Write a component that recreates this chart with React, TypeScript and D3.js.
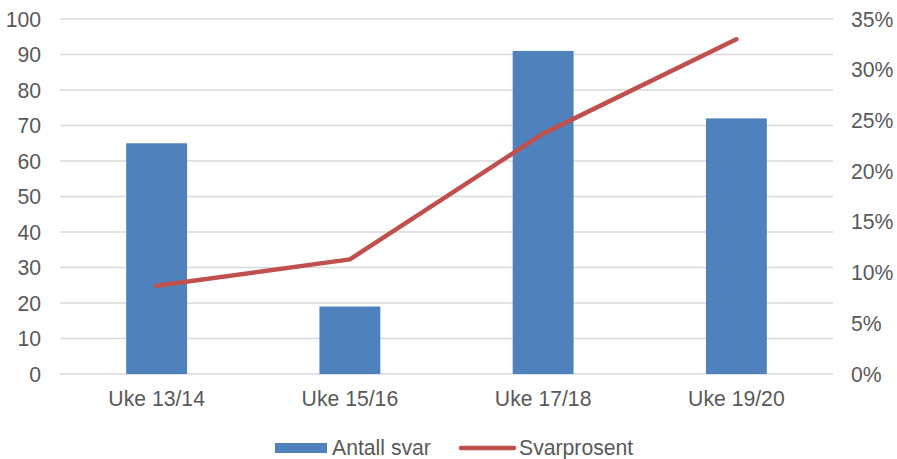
import React from "react";
import * as d3 from "d3";

const categories = ["Uke 13/14", "Uke 15/16", "Uke 17/18", "Uke 19/20"];
const antallSvar = [65, 19, 91, 72];
const svarprosent = [0.087, 0.113, 0.237, 0.33];
const leftTicks = [0, 10, 20, 30, 40, 50, 60, 70, 80, 90, 100];
const rightTicks = [0, 0.05, 0.1, 0.15, 0.2, 0.25, 0.3, 0.35];

const W = 897;
const H = 459;
const plotLeft = 60;
const plotRight = 833;
const plotTop = 19;
const plotBottom = 374;
const font = "'Liberation Sans', Arial, sans-serif";
const textColor = "#595959";
const fs = 21.2;

export default function App() {
  const x = d3.scaleBand<string>().domain(categories).range([plotLeft, plotRight]).paddingInner(0.685).paddingOuter(0.3425);
  const xc = d3.scaleBand<string>().domain(categories).range([plotLeft, plotRight]);
  const yL = d3.scaleLinear().domain([0, 100]).range([plotBottom, plotTop]);
  const yR = d3.scaleLinear().domain([0, 0.35]).range([plotBottom, plotTop]);
  const line = d3
    .line<number>()
    .x((_, i) => (xc(categories[i]) as number) + xc.bandwidth() / 2)
    .y((d) => yR(d));
  const pct = d3.format(".0%");

  return (
    <svg width={W} height={H} style={{ position: "absolute", left: 0, top: 0 }}>
      <rect width={W} height={H} fill="#fff" />
      {leftTicks.map((t) => (
        <line key={t} x1={plotLeft} x2={plotRight} y1={yL(t)} y2={yL(t)} stroke="#d9d9d9" strokeWidth={1.5} />
      ))}
      {leftTicks.map((t) => (
        <text key={"l" + t} x={41} y={yL(t) + 7.5} textAnchor="end" fontFamily={font} fontSize={fs} fill={textColor}>
          {t}
        </text>
      ))}
      {rightTicks.map((t) => (
        <text key={"r" + t} x={851} y={yR(t) + 7.5} textAnchor="start" fontFamily={font} fontSize={fs} fill={textColor}>
          {pct(t)}
        </text>
      ))}
      {antallSvar.map((v, i) => (
        <rect
          key={i}
          x={x(categories[i])}
          y={yL(v)}
          width={x.bandwidth()}
          height={plotBottom - yL(v)}
          fill="#4f81bd"
        />
      ))}
      <path d={line(svarprosent) || ""} fill="none" stroke="#c0504d" strokeWidth={4.5} strokeLinecap="round" strokeLinejoin="round" />
      {categories.map((c) => (
        <text
          key={c}
          x={(xc(c) as number) + xc.bandwidth() / 2}
          y={406}
          textAnchor="middle"
          fontFamily={font}
          fontSize={fs}
          fill={textColor}
        >
          {c}
        </text>
      ))}
      <rect x={275} y={443} width={52} height={10} fill="#4f81bd" />
      <text x={332} y={455} fontFamily={font} fontSize={fs} fill={textColor}>
        Antall svar
      </text>
      <line x1={461} x2={514} y1={448} y2={448} stroke="#c0504d" strokeWidth={4.5} strokeLinecap="round" />
      <text x={519} y={455} fontFamily={font} fontSize={fs} fill={textColor}>
        Svarprosent
      </text>
    </svg>
  );
}
